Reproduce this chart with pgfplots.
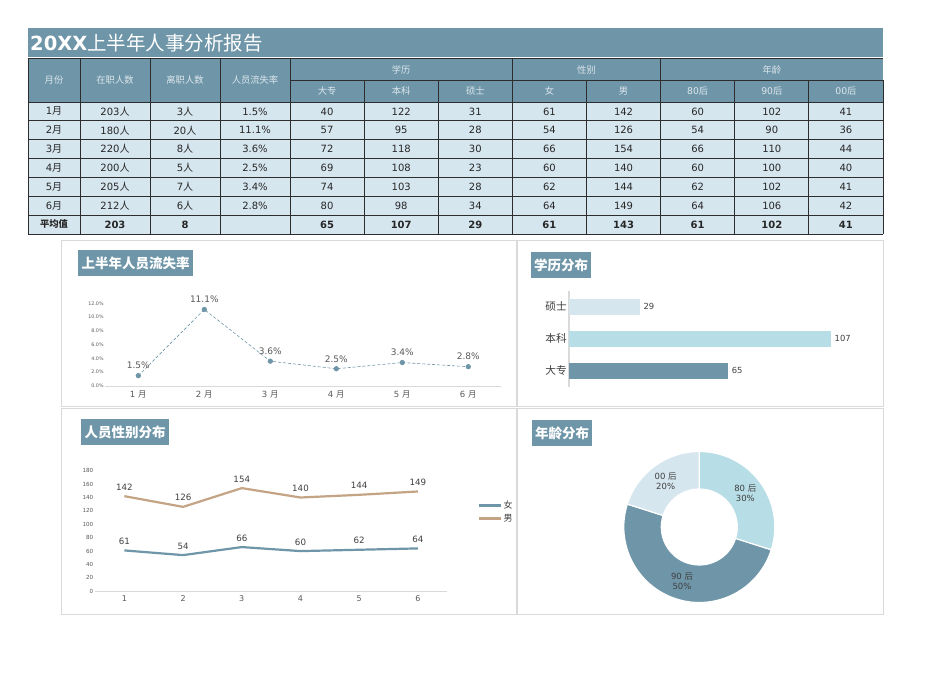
\documentclass[border=0pt]{standalone}
\usepackage{fontspec}
\setmainfont{DejaVu Sans}
\newfontfamily\cjk{Noto Sans CJK SC}
\usepackage{pgfplots}
\pgfplotsset{compat=1.18}

\definecolor{steel}{RGB}{111,150,168}
\definecolor{rowbg}{RGB}{214,230,239}
\definecolor{cyanl}{RGB}{183,221,230}
\definecolor{sand}{RGB}{196,164,132}
\definecolor{hdtext}{RGB}{220,230,236}
\definecolor{gridc}{RGB}{45,45,45}
\definecolor{panelc}{RGB}{217,217,217}
\definecolor{lab}{RGB}{89,89,89}
\definecolor{dark}{RGB}{64,64,64}

\newcommand\fs[1]{\fontsize{#1}{#1}\selectfont}
\newcommand\cj[1]{{\cjk #1}}

\pgfplotsset{
  panel/.style={scale only axis, anchor=south west, clip=false,
    axis lines*=left, tick style={draw=none}, major tick length=0pt,
    /pgf/number format/assume math mode=true,
    y axis line style={draw=none},
    x axis line style={draw=panelc, line width=0.8pt}},
}

\begin{document}
\begin{tikzpicture}
\fill[white] (0,0) rectangle (950pt,672pt);
\useasboundingbox (0,0) rectangle (950pt,672pt);

\begin{scope}[x=1pt,y=-1pt,yshift=672pt]
  % title bar
  \fill[steel] (28,28) rectangle (883,57);
  \node[anchor=west, text=white, inner sep=0] at (30,43)
    {\fs{19.5}{\bfseries 20XX}\cj{上半年人事分析报告}};

  % table
  \fill[steel] (28,58) rectangle (883,102);
  \fill[rowbg] (28,102) rectangle (883,234);
  \foreach \k in {0,...,7}
    \draw[gridc, line width=0.8pt] (28,{102+18.857*\k}) -- (883,{102+18.857*\k});
  \draw[gridc, line width=0.8pt] (28,58) -- (883,58);
  \draw[gridc, line width=0.8pt] (290,80) -- (883,80);
  \foreach \xx in {28,80,150,220,290}
    \draw[gridc, line width=0.8pt] (\xx,58) -- (\xx,234);
  \foreach \k in {1,...,8}
    \draw[gridc, line width=0.8pt] ({290+74.125*\k},80) -- ({290+74.125*\k},234);
  \foreach \k in {3,5}
    \draw[gridc, line width=0.8pt] ({290+74.125*\k},58) -- ({290+74.125*\k},80);

  \tikzset{hd/.style={font=\cjk\fs{9.3}, text=hdtext, inner sep=0},
           cell/.style={font=\fs{10}, text=black!85, inner sep=0}}
  \node[hd] at (54,80) {月份};
  \node[hd] at (115,80) {在职人数};
  \node[hd] at (185,80) {离职人数};
  \node[hd] at (255,80) {人员流失率};
  \node[hd] at (401.2,69.5) {学历};
  \node[hd] at (586.5,69.5) {性别};
  \node[hd] at (771.8,69.5) {年龄};
  \foreach \t [count=\j from 0] in {大专,本科,硕士,女,男}
    \node[hd] at ({327.06+74.125*\j},91) {\t};
  \foreach \t [count=\j from 5] in {80,90,00}
    \node[hd, font=\fs{9.3}] at ({327.06+74.125*\j},91) {\t\cj{后}};

  \foreach \m/\a/\b/\c [count=\i from 0] in
      {1/203/3/1.5, 2/180/20/11.1, 3/220/8/3.6, 4/200/5/2.5, 5/205/7/3.4, 6/212/6/2.8}{
    \pgfmathsetmacro\ry{111.43+18.857*\i}
    \node[cell] at (54,\ry) {\m\cj{月}};
    \node[cell] at (115,\ry) {\a\cj{人}};
    \node[cell] at (185,\ry) {\b\cj{人}};
    \node[cell] at (255,\ry) {\c\%};
  }
  \foreach \row [count=\i from 0] in
      {{40,122,31,61,142,60,102,41},{57,95,28,54,126,54,90,36},
       {72,118,30,66,154,66,110,44},{69,108,23,60,140,60,100,40},
       {74,103,28,62,144,62,102,41},{80,98,34,64,149,64,106,42}}{
    \pgfmathsetmacro\ry{111.43+18.857*\i}
    \foreach \v [count=\j from 0] in \row {
      \pgfmathsetmacro\cx{327.06+74.125*\j}
      \node[cell] at (\cx,\ry) {\v};
    }
  }
  \node[cell, font=\cjk\fs{9.3}\bfseries] at (54,224.43) {平均值};
  \node[cell, font=\fs{10}\bfseries] at (115,224.43) {203};
  \node[cell, font=\fs{10}\bfseries] at (185,224.43) {8};
  \foreach \v [count=\j from 0] in {65,107,29,61,143,61,102,41}
    \node[cell, font=\fs{10}\bfseries] at ({327.06+74.125*\j},224.43) {\v};

  % panels
  \draw[panelc, line width=0.8pt] (61,240) rectangle (516,406);
  \draw[panelc, line width=0.8pt] (517,240) rectangle (883,406);
  \draw[panelc, line width=0.8pt] (61,408) rectangle (516,614);
  \draw[panelc, line width=0.8pt] (517,408) rectangle (883,614);

  \tikzset{ptitle/.style={font=\cjk\fs{13.5}\bfseries, text=white, inner sep=0}}
  \fill[steel] (78,250) rectangle (193,276);
  \node[ptitle] at (135.5,263) {上半年人员流失率};
  \fill[steel] (531,252) rectangle (591,278);
  \node[ptitle] at (561,265) {学历分布};
  \fill[steel] (81,419) rectangle (169,445);
  \node[ptitle] at (125,432) {人员性别分布};
  \fill[steel] (532,420) rectangle (592,446);
  \node[ptitle] at (562,433) {年龄分布};
\end{scope}

% attrition rate
\begin{axis}[panel, at={(105.3pt,286pt)}, width=396pt, height=82.7pt,
  xmin=0.5, xmax=6.5, ymin=0, ymax=12,
  xtick={1,...,6},
  xticklabels={1 \cj{月},2 \cj{月},3 \cj{月},4 \cj{月},5 \cj{月},6 \cj{月}},
  xticklabel style={font=\fs{8.5}, text=lab, yshift=-1.5pt},
  ytick={0,2,...,12},
  yticklabel={\pgfmathprintnumber[fixed,fixed zerofill,precision=1]{\tick}\%},
  yticklabel style={font=\fs{4.8}, text=lab, inner sep=1.5pt},
  nodes near coords={\pgfmathprintnumber[fixed,fixed zerofill,precision=1]{\pgfplotspointmeta}\%},
  every node near coord/.append style={font=\fs{9}, text=lab, yshift=3pt},
]
\addplot[steel, densely dashed, line width=0.6pt, mark=*, mark size=2.3pt,
  mark options={solid, fill=steel}]
  coordinates {(1,1.5) (2,11.1) (3,3.6) (4,2.5) (5,3.4) (6,2.8)};
\end{axis}

% education
\begin{axis}[panel, at={(569pt,285.3pt)}, width=294pt, height=96pt,
  xbar, bar width=16pt, xmin=0, xmax=120, ymin=-0.5, ymax=2.5,
  x axis line style={draw=none},
  y axis line style={draw=panelc, line width=1.5pt},
  xtick=\empty, ytick={0,1,2}, yticklabels={大专,本科,硕士},
  yticklabel style={font=\cjk\fs{10.7}, text=dark, inner sep=2pt},
  point meta=x, nodes near coords,
  every node near coord/.append style={font=\fs{8.4}, text=dark},
]
\addplot[fill=steel, draw=none, bar shift=0pt] coordinates {(65,0)};
\addplot[fill=cyanl, draw=none, bar shift=0pt] coordinates {(107,1)};
\addplot[fill=rowbg, draw=none, bar shift=0pt] coordinates {(29,2)};
\end{axis}

% gender
\begin{axis}[panel, at={(95pt,80.7pt)}, width=352.3pt, height=120.6pt,
  xmin=0.5, xmax=6.5, ymin=0, ymax=180,
  xtick={1,...,6}, ytick={0,20,...,180},
  xticklabel style={font=\fs{8}, text=lab, yshift=-1pt},
  yticklabel style={font=\fs{5.6}, text=lab, inner sep=1.5pt},
  nodes near coords,
  every node near coord/.append style={font=\fs{8.7}, text=dark, yshift=1.5pt},
  legend style={at={(1,0.659)}, anchor=west, xshift=27pt, draw=none, fill=none,
    nodes={inner sep=0pt, font=\cjk\fs{9}, text=dark}, row sep=4pt, column sep=2pt},
  legend cell align=left,
  legend image code/.code={\draw[#1, line width=2.2pt] (0pt,0pt) -- (22pt,0pt);},
]
\addplot[steel, line width=2.2pt, line join=round]
  coordinates {(1,61) (2,54) (3,66) (4,60) (5,62) (6,64)};
\addlegendentry{女}
\addplot[sand, line width=2.2pt, line join=round]
  coordinates {(1,142) (2,126) (3,154) (4,140) (5,144) (6,149)};
\addlegendentry{男}
\end{axis}

% age donut
\pgfmathsetmacro\tot{61+102+41}
\pgfmathsetmacro\aA{90}
\pgfmathsetmacro\aB{\aA-360*(61/\tot)}
\pgfmathsetmacro\aC{\aB-360*(102/\tot)}
\pgfmathsetmacro\aD{\aC-360*(41/\tot)}
\pgfmathsetmacro\mA{(\aA+\aB)/2}
\pgfmathsetmacro\mB{(\aB+\aC)/2}
\pgfmathsetmacro\mC{(\aC+\aD)/2}
\pgfmathsetmacro\pA{100*(61/\tot)}
\pgfmathsetmacro\pB{100*(102/\tot)}
\pgfmathsetmacro\pC{100*(41/\tot)}
\newcommand\seg[3]{%
  \fill[#1, draw=white, line width=1.2pt]
    ([shift={(#2:75.5pt)}]axis cs:0,0) arc[start angle=#2, end angle=#3, radius=75.5pt]
    -- ([shift={(#3:38pt)}]axis cs:0,0) arc[start angle=#3, end angle=#2, radius=38pt]
    -- cycle;}
\begin{axis}[scale only axis, at={(699.3pt,145pt)}, anchor=center,
  width=151pt, height=151pt, xmin=-1, xmax=1, ymin=-1, ymax=1,
  hide axis, clip=false, /pgf/number format/assume math mode=true]
\seg{cyanl}{\aA}{\aB}
\seg{steel}{\aB}{\aC}
\seg{rowbg}{\aC}{\aD}
\tikzset{dl/.style={align=center, font=\fontsize{8.5}{10}\selectfont, text=dark, inner sep=0}}
\node[dl] at ([shift={(\mA:57pt)}]axis cs:0,0)
  {80 \cj{后}\\\pgfmathprintnumber[fixed,precision=0]{\pA}\%};
\node[dl] at ([shift={(\mB:57pt)}]axis cs:0,0)
  {90 \cj{后}\\\pgfmathprintnumber[fixed,precision=0]{\pB}\%};
\node[dl] at ([shift={(\mC:57pt)}]axis cs:0,0)
  {00 \cj{后}\\\pgfmathprintnumber[fixed,precision=0]{\pC}\%};
\end{axis}
\end{tikzpicture}
\end{document}
